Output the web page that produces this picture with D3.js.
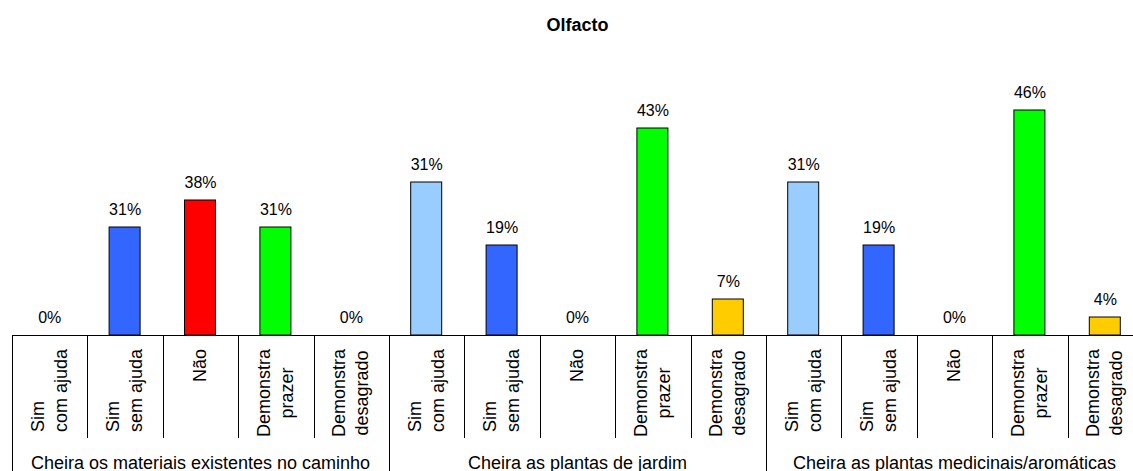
<!DOCTYPE html>
<html>
<head>
<meta charset="utf-8">
<script src="https://cdn.jsdelivr.net/npm/d3@7"></script>
<style>
  body { margin: 0; background: #fff; }
  svg text { font-family: "Liberation Sans", Arial, sans-serif; fill: #000; }
</style>
</head>
<body>
<div id="chart"></div>
<script>
// data
var groups = ["Cheira os materiais existentes no caminho", "Cheira as plantas de jardim", "Cheira as plantas medicinais/aromáticas"];
var answers = [["Sim", "com ajuda"], ["Sim", "sem ajuda"], ["Não"], ["Demonstra", "prazer"], ["Demonstra", "desagrado"]];
// bar heights (counts) and the percent labels printed above them
var counts = [0, 12, 15, 12, 0,   17, 10, 0, 23, 4,   17, 10, 0, 25, 2];
var percents = ["0%", "31%", "38%", "31%", "0%",   "31%", "19%", "0%", "43%", "7%",   "31%", "19%", "0%", "46%", "4%"];
var answerColors = ["#99ccff", "#3366ff", "#ff0000", "#00ff00", "#ffcc00"];

var width = 1133, height = 471;
var baseY = 335;
var left = 12, step = 75.4;

var svg = d3.select("#chart").append("svg")
    .attr("width", width)
    .attr("height", height);

var x = d3.scaleBand()
    .domain(d3.range(counts.length))
    .range([left, left + step * counts.length]);

var gx = d3.scaleBand()
    .domain(groups)
    .range([left, left + step * counts.length]);

var y = d3.scaleLinear()
    .domain([0, 30])
    .range([baseY, 65]);

var color = d3.scaleOrdinal().domain(d3.range(5)).range(answerColors);

var barW = 31;

// title
svg.append("text")
    .attr("x", (x.range()[0] + x.range()[1]) / 2)
    .attr("y", 31)
    .attr("text-anchor", "middle")
    .style("font-size", "18px")
    .style("font-weight", "bold")
    .text("Olfacto");

// bars
svg.append("g")
    .selectAll("rect")
    .data(counts)
    .enter()
    .append("rect")
    .attr("x", function(d, i) { return x(i) + x.bandwidth() / 2 - barW / 2 - 0.5; })
    .attr("y", function(d) { return y(d); })
    .attr("width", barW)
    .attr("height", function(d) { return baseY - y(d); })
    .attr("fill", function(d, i) { return color(i % 5); })
    .attr("stroke", "#000")
    .attr("stroke-width", 1)
    .style("display", function(d) { return d > 0 ? null : "none"; });

// percent labels
svg.append("g")
    .selectAll("text")
    .data(counts)
    .enter()
    .append("text")
    .attr("x", function(d, i) { return x(i) + x.bandwidth() / 2; })
    .attr("y", function(d) { return y(d) - 12; })
    .attr("text-anchor", "middle")
    .style("font-size", "16px")
    .text(function(d, i) { return percents[i]; });

// axis line
svg.append("line")
    .attr("x1", left).attr("x2", width)
    .attr("y1", baseY + 0.5).attr("y2", baseY + 0.5)
    .attr("stroke", "#000");

// category dividers (short) and group dividers (long)
var ticks = d3.range(counts.length + 1);
svg.append("g")
    .selectAll("line")
    .data(ticks)
    .enter()
    .append("line")
    .attr("x1", function(d) { return Math.round(left + d * x.step()) + 0.5; })
    .attr("x2", function(d) { return Math.round(left + d * x.step()) + 0.5; })
    .attr("y1", baseY)
    .attr("y2", function(d) { return d % 5 === 0 ? height : 438; })
    .attr("stroke", "#000");

// rotated answer labels
var labelTop = 349;
var catG = svg.append("g");
counts.forEach(function(c, i) {
    var lines = answers[i % 5];
    var cx = x(i) + x.bandwidth() / 2;
    var g = catG.append("g");
    var texts = lines.map(function(line) {
        return g.append("text").style("font-size", "18px").text(line);
    });
    var lens = texts.map(function(t) { return t.node().getComputedTextLength(); });
    var longest = d3.max(lens);
    var mid = labelTop + longest / 2;
    texts.forEach(function(t, j) {
        var bx;
        if (lines.length === 1) bx = cx + 5;
        else bx = j === 0 ? cx - 6 : cx + 17;
        // short first word ("Sim") sits at the bottom, other lines are centred
        var startAligned = lines.length > 1 && j === 0 && lens[j] < longest * 0.5;
        var py = startAligned ? labelTop + longest : mid;
        t.attr("text-anchor", startAligned ? "start" : "middle")
         .attr("transform", "translate(" + bx + "," + py + ") rotate(-90)");
    });
});

// group labels
svg.append("g")
    .selectAll("text")
    .data(groups)
    .enter()
    .append("text")
    .attr("x", function(d) { return gx(d) + gx.bandwidth() / 2; })
    .attr("y", 468.5)
    .attr("text-anchor", "middle")
    .style("font-size", "18px")
    .text(function(d) { return d; });
</script>
</body>
</html>
